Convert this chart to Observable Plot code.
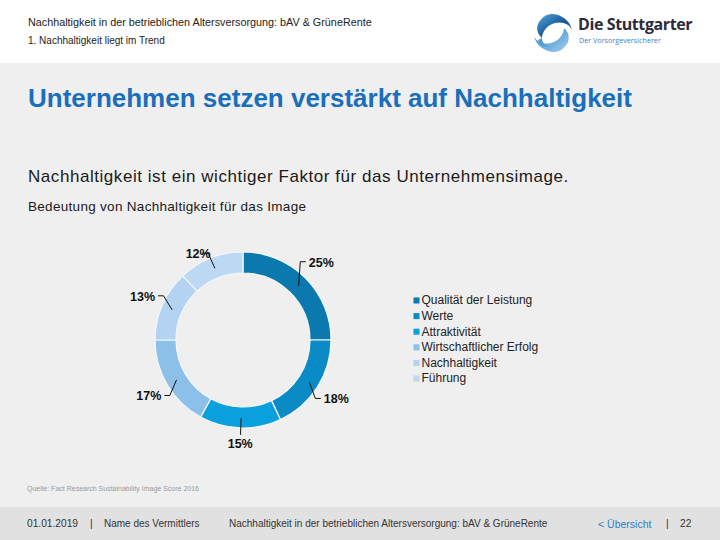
<!DOCTYPE html>
<html>
<head>
<meta charset="utf-8">
<script src="https://cdn.jsdelivr.net/npm/d3@7"></script>
<script src="https://cdn.jsdelivr.net/npm/@observablehq/plot@0.6"></script>
<style>
  html, body { margin: 0; padding: 0; }
  body { width: 720px; height: 540px; position: relative; overflow: hidden; background: #efefef; font-family: "Liberation Sans", Arial, sans-serif; color: #222; }
  .abs { position: absolute; white-space: nowrap; line-height: 1; }
  #header { position: absolute; left: 0; top: 0; width: 720px; height: 63px; background: #ffffff; }
  #footer { position: absolute; left: 0; top: 507px; width: 720px; height: 33px; background: #e1e1e1; }
  #chart { position: absolute; left: 0; top: 215px; }
</style>
</head>
<body>
<div id="header"></div>
<div id="footer"></div>

<div class="abs" style="left:28px; top:17px; font-size:10.8px; color:#222;">Nachhaltigkeit in der betrieblichen Altersversorgung: bAV &amp; GrüneRente</div>
<div class="abs" style="left:28px; top:36px; font-size:10px; color:#222;">1. Nachhaltigkeit liegt im Trend</div>

<svg class="abs" style="left:530px; top:12px;" width="46" height="42" viewBox="0 0 46 42">
  <defs>
    <linearGradient id="lg1" x1="0" y1="0" x2="1" y2="1">
      <stop offset="0" stop-color="#5aa8dc"/>
      <stop offset="0.5" stop-color="#1a5e9e"/>
      <stop offset="1" stop-color="#0d3f75"/>
    </linearGradient>
    <linearGradient id="lg2" x1="1" y1="1" x2="0" y2="0">
      <stop offset="0" stop-color="#9fd0f0"/>
      <stop offset="1" stop-color="#2f7fc0"/>
    </linearGradient>
  </defs>
  <path d="M22 2 C30 2 40 8 42 18 C40 12 32 9 25 11 C17 13 12 20 12 26 C8 22 6 18 8 12 C11 6 16 2 22 2 Z" fill="url(#lg1)"/>
  <path d="M24 40 C16 40 6 34 4 24 C6 30 14 33 21 31 C29 29 34 22 34 16 C38 20 40 24 38 30 C35 36 30 40 24 40 Z" fill="url(#lg2)"/>
  <path d="M12 26 C12 34 20 36 26 34 C20 36 10 34 8 28 Z" fill="#4e9ad6"/>
</svg>
<div class="abs" style="left:578px; top:16px; font-family:'Open Sans', sans-serif; font-weight:700; font-size:16px; color:#2b2b3b; letter-spacing:-0.4px;">Die Stuttgarter</div>
<div class="abs" style="left:579px; top:37px; font-family:'Open Sans', sans-serif; font-size:7.2px; color:#3f82c0;">Der Vorsorgeversicherer</div>

<div class="abs" style="left:28px; top:85px; font-size:26px; font-weight:700; color:#1b6fba;">Unternehmen setzen verstärkt auf Nachhaltigkeit</div>
<div class="abs" style="left:28px; top:168px; font-size:17px; letter-spacing:0.55px; color:#1a1a1a;">Nachhaltigkeit ist ein wichtiger Faktor für das Unternehmensimage.</div>
<div class="abs" style="left:28px; top:200px; font-size:13.5px; letter-spacing:0.3px; color:#1a1a1a;">Bedeutung von Nachhaltigkeit für das Image</div>

<div id="chart"></div>

<div class="abs" style="left:27px; top:485px; font-size:7px; color:#9a9a9a;">Quelle: Fact Research Sustainability Image Score 2016</div>

<div class="abs" style="left:27px; top:519px; font-size:10.2px; color:#333;">01.01.2019</div>
<div class="abs" style="left:90px; top:519px; font-size:10.2px; color:#333;">|</div>
<div class="abs" style="left:104px; top:519px; font-size:10px; color:#333;">Name des Vermittlers</div>
<div class="abs" style="left:229px; top:519px; font-size:10px; color:#333;">Nachhaltigkeit in der betrieblichen Altersversorgung: bAV &amp; GrüneRente</div>
<div class="abs" style="left:598px; top:519px; font-size:10.5px; color:#2d7fc4;">&lt; Übersicht</div>
<div class="abs" style="left:666px; top:519px; font-size:10.2px; color:#333;">|</div>
<div class="abs" style="left:680px; top:519px; font-size:10.2px; color:#333;">22</div>

<script>
// ---- data ----
const categories = ["Qualität der Leistung", "Werte", "Attraktivität", "Wirtschaftlicher Erfolg", "Nachhaltigkeit", "Führung"];
const shares = [25, 18, 15, 17, 13, 12];
const shareLabels = ["25%", "18%", "15%", "17%", "13%", "12%"];
const sliceColors = ["#0b79ae", "#0a8bc6", "#0aa0de", "#8cc0e8", "#b3d3f0", "#bcd8f2"];

// ---- layout (page coordinates) ----
const W = 720, H = 260, TOP = 215;
const cx = 243, cy = 340, rOuter = 88, rInner = 67;

const pie = d3.pie().sort(null).value(d => d.share);
const slices = pie(categories.map((c, i) => ({category: c, share: shares[i], label: shareLabels[i]})));

const pt = (a, r) => [cx + r * Math.sin(a), cy - r * Math.cos(a)];

const leaderPts = [];
const labelData = [];
const halfW = 13;
slices.forEach((s, i) => {
  const mid = (s.startAngle + s.endAngle) / 2;
  const sn = Math.sin(mid), cs = Math.cos(mid);
  const p0 = pt(mid, 78);
  if (Math.abs(sn) < 0.3) {
    // label straight below / above the slice
    const p1 = pt(mid, 94);
    leaderPts.push({k: i, x: p0[0], y: p0[1]}, {k: i, x: p1[0], y: p1[1]});
    const pl = pt(mid, 104);
    labelData.push({x: pl[0], y: pl[1], text: s.data.label, anchor: "middle"});
  } else if (Math.abs(cs) > 0.85) {
    // near the top / bottom: elbow then short horizontal
    const side = sn > 0 ? 1 : -1;
    const p1 = pt(mid, 96);
    const p2 = [p1[0] + side * 6, p1[1] + 2];
    const p1b = [p1[0], p1[1] + 2];
    leaderPts.push({k: i, x: p0[0], y: p0[1]}, {k: i, x: p1b[0], y: p1b[1]}, {k: i, x: p2[0], y: p2[1]});
    labelData.push({x: p2[0] + side * 4, y: p2[1] + 1, text: s.data.label, anchor: side > 0 ? "start" : "end"});
  } else {
    // label centred on a ring outside the donut, leader runs to its near edge
    const side = sn > 0 ? 1 : -1;
    const L = pt(mid, 110);
    const p2 = [L[0] - side * (halfW + 3), L[1] - 1];
    const p1 = [p2[0] - side * 5, p2[1]];
    leaderPts.push({k: i, x: p0[0], y: p0[1]}, {k: i, x: p1[0], y: p1[1]}, {k: i, x: p2[0], y: p2[1]});
    labelData.push({x: L[0], y: L[1], text: s.data.label, anchor: "middle"});
  }
});

const legendData = categories.map((c, i) => ({category: c, x: 416, y: 300 + i * 15.6}));

// donut render mark using the plot's own scales
function donut(index, scales, values, dimensions, context) {
  const g = d3.create("svg:g");
  const X = scales.x, Y = scales.y;
  const ox = X(cx), oy = Y(cy);
  const ro = X(cx + rOuter) - ox, ri = X(cx + rInner) - ox;
  const arc = d3.arc().innerRadius(ri).outerRadius(ro);
  g.selectAll("path")
    .data(slices)
    .join("path")
    .attr("transform", `translate(${ox},${oy})`)
    .attr("d", arc)
    .attr("fill", d => scales.color(d.data.category))
    .attr("stroke", "#f4f8fc")
    .attr("stroke-width", 1.2);
  return g.node();
}

const plot = Plot.plot({
  width: W,
  height: H,
  margin: 0,
  style: {background: "transparent", fontFamily: "'Liberation Sans', Arial, sans-serif", overflow: "visible"},
  x: {domain: [0, W], range: [0, W], axis: null},
  y: {domain: [TOP, TOP + H], range: [0, H], axis: null},
  color: {domain: categories, range: sliceColors},
  marks: [
    donut,
    Plot.line(leaderPts, {x: "x", y: "y", z: "k", stroke: "#111", strokeWidth: 1}),
    Plot.text(labelData, {x: "x", y: "y", text: "text", textAnchor: "anchor", fontSize: 12.5, fontWeight: "bold", fill: "#111"}),
    Plot.dot(legendData, {x: "x", y: "y", fill: "category", symbol: "square", r: 3.4, stroke: null}),
    Plot.text(legendData, {x: d => d.x + 5, y: "y", text: "category", textAnchor: "start", fontSize: 12, fill: "#222"})
  ]
});
document.getElementById("chart").appendChild(plot);
</script>
</body>
</html>
